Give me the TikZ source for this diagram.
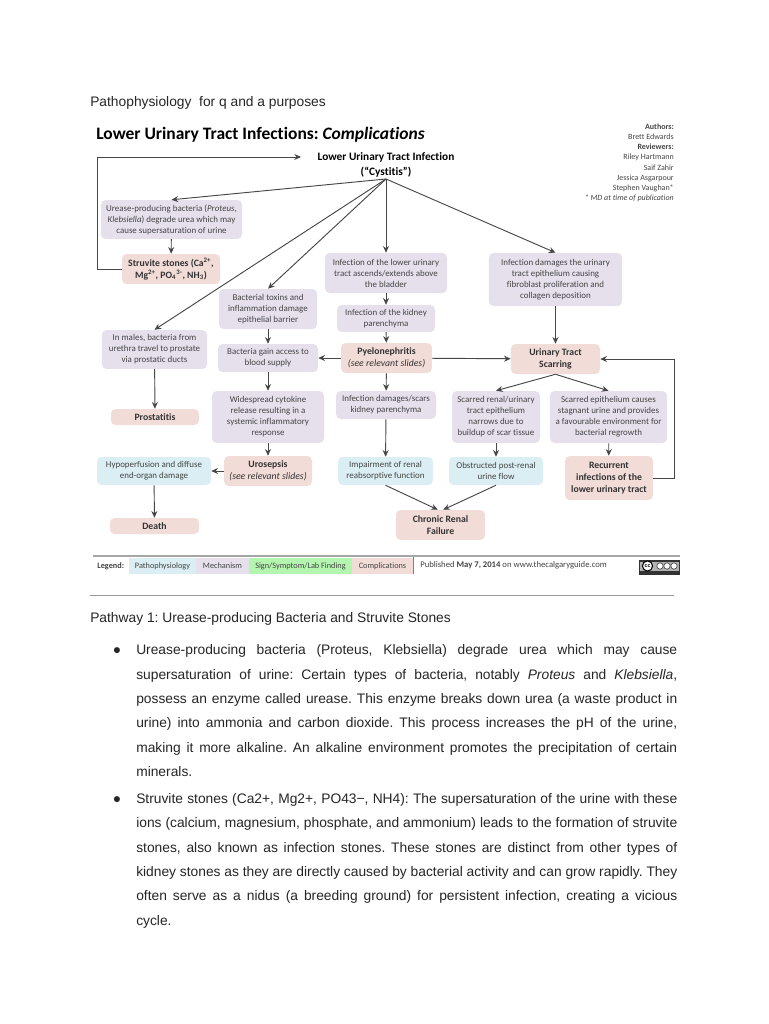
\documentclass[tikz,border=0pt]{standalone}
\usepackage{fontspec}
\setmainfont{Liberation Sans}
\newfontfamily\chartfont[Ligatures={TeX,NoCommon}]{Carlito}
\usetikzlibrary{arrows.meta}
\definecolor{mechfill}{HTML}{E6E0EC}
\definecolor{pathfill}{HTML}{DBEEF3}
\definecolor{signfill}{HTML}{B4F6B0}
\definecolor{compfill}{HTML}{F2DCD8}
\definecolor{inkgray}{HTML}{444444}
\frenchspacing
\tikzset{
  chartbox/.style={rounded corners=3.5pt,inner sep=0pt,align=center,text=inkgray,
    font=\chartfont\fontsize{6.7}{8.25}\selectfont},
  mech/.style={chartbox,fill=mechfill},
  patho/.style={chartbox,fill=pathfill},
  comp/.style={chartbox,fill=compfill,text=black!80,font=\chartfont\bfseries\fontsize{7.3}{9}\selectfont},
  conn/.style={line width=0.7pt,draw=black!72,-{Stealth[length=5pt,width=4.5pt]}},
  legendcell/.style={inner sep=0pt,minimum height=12pt,text=inkgray,font=\chartfont\fontsize{6.2}{7}\selectfont},
  bodytext/.style={anchor=north west,inner sep=0pt,align=justify,text=black!85,
    font=\fontsize{10.35}{18.3}\selectfont},
}
\begin{document}
\begin{tikzpicture}[x=0.75pt,y=-0.75pt]
\useasboundingbox (0,0) rectangle (768,1024);
\fill[white] (0,0) rectangle (768,1024);
\node[anchor=base west,inner sep=0pt,text=black!85,font=\fontsize{10.35}{12}\selectfont] (doctitle) at (90,106) {Pathophysiology\ \ for q and a purposes};
\node[anchor=base west,inner sep=0pt,font=\chartfont\bfseries\fontsize{13.1}{16}\selectfont] (charttitle) at (96,139.5) {Lower Urinary Tract Infections: \textit{Complications}};
\node[anchor=north east,inner sep=0pt,align=right,text=inkgray,font=\chartfont\fontsize{6}{7.65}\selectfont] (authors) at (674,123.5) {\textbf{Authors:}\\Brett Edwards\\\textbf{Reviewers:}\\Riley Hartmann\\Saif Zahir\\Jessica Asgarpour\\Stephen Vaughan*\\\textit{* MD at time of publication}};
% top of the chart
\node[inner sep=0pt,align=center,font=\chartfont\bfseries\fontsize{8.5}{11}\selectfont] (lower) at (386,165) {Lower Urinary Tract Infection\\(“Cystitis”)};
\coordinate (hub) at (386,179);
\node[mech,minimum width=105.8pt,minimum height=29.2pt] (urease) at (171.5,219.5) {Urease-producing bacteria (\textit{Proteus},\\\textit{Klebsiella}) degrade urea which may\\cause supersaturation of urine};
\node[comp,minimum width=73.5pt,minimum height=22.5pt] (struvite) at (171,269) {Struvite stones (Ca\textsuperscript{2+},\\Mg\textsuperscript{2+}, PO\textsubscript{4}\textsuperscript{3-}, NH\textsubscript{3})};
\node[mech,minimum width=73.5pt,minimum height=30pt] (toxins) at (268,309) {Bacterial toxins and\\inflammation damage\\epithelial barrier};
\node[mech,minimum width=78.8pt,minimum height=29.2pt] (males) at (154.5,349.5) {In males, bacteria from\\urethra travel to prostate\\via prostatic ducts};
\node[mech,minimum width=91.5pt,minimum height=30pt] (ascends) at (386,273) {Infection of the lower urinary\\tract ascends/extends above\\the bladder};
\node[mech,minimum width=73.5pt,minimum height=20.2pt] (kidney) at (386,318.5) {Infection of the kidney\\parenchyma};
\node[mech,minimum width=99.8pt,minimum height=39.8pt] (damage) at (555.5,279.5) {Infection damages the urinary\\tract epithelium causing\\fibroblast proliferation and\\collagen deposition};
\node[mech,minimum width=75pt,minimum height=21pt] (gain) at (268,358) {Bacteria gain access to\\blood supply};
\node[comp,minimum width=68.2pt,minimum height=22.5pt] (pyelo) at (386.5,358) {Pyelonephritis\\{\mdseries\itshape (see relevant slides)}};
\node[comp,minimum width=66.8pt,minimum height=22.5pt] (scarring) at (555.5,359) {Urinary Tract\\Scarring};
\node[mech,minimum width=84pt,minimum height=39pt] (cytokine) at (268,417) {Widespread cytokine\\release resulting in a\\systemic inflammatory\\response};
\node[mech,minimum width=75pt,minimum height=21pt] (scars) at (386,405) {Infection damages/scars\\kidney parenchyma};
\node[mech,minimum width=66pt,minimum height=39pt] (narrows) at (496,417) {Scarred renal/urinary\\tract epithelium\\narrows due to\\buildup of scar tissue};
\node[mech,minimum width=87.8pt,minimum height=39pt] (stagnant) at (608.5,417) {Scarred epithelium causes\\stagnant urine and provides\\a favourable environment for\\bacterial regrowth};
\node[comp,minimum width=66pt,minimum height=12pt] (prostatitis) at (155,417) {Prostatitis};
\node[comp,minimum width=66pt,minimum height=22.5pt] (urosepsis) at (268,471) {Urosepsis\\{\mdseries\itshape (see relevant slides)}};
\node[patho,minimum width=85.5pt,minimum height=21pt] (hypo) at (154,471) {Hypoperfusion and diffuse\\end-organ damage};
\node[patho,minimum width=71.2pt,minimum height=21pt] (impair) at (385.5,471) {Impairment of renal\\reabsorptive function};
\node[patho,minimum width=70.5pt,minimum height=21pt] (obstruct) at (496,471) {Obstructed post-renal\\urine flow};
\node[comp,minimum width=66pt,minimum height=33pt] (recurrent) at (609,478) {Recurrent\\infections of the\\lower urinary tract};
\node[comp,minimum width=66.8pt,minimum height=12pt] (death) at (154.5,526) {Death};
\node[comp,minimum width=66.8pt,minimum height=22.5pt] (chronic) at (440.5,525) {Chronic Renal\\Failure};
\coordinate (struviteturn) at (97,269);
\coordinate (lowerturn) at (97,157);
\coordinate (lowerin) at (301,157);
\coordinate (recurrentturn) at (674,478);
\coordinate (scarringin) at (674,359);
% connectors
\draw[conn] (struvite.west) -- (struviteturn) -- (lowerturn) -- (lowerin);
\draw[conn] (hub) -- (urease.north);
\draw[conn] (hub) -- (males.north);
\draw[conn] (hub) -- (toxins.north);
\draw[conn] (hub) -- (ascends.north);
\draw[conn] (hub) -- (damage.north);
\draw[conn] (urease) -- (struvite);
\draw[conn] (toxins) -- (gain);
\draw[conn] (gain) -- (cytokine);
\draw[conn] (cytokine) -- (urosepsis);
\draw[conn] (urosepsis) -- (hypo);
\draw[conn] (hypo) -- (death);
\draw[conn] (males) -- (prostatitis);
\draw[conn] (ascends) -- (kidney);
\draw[conn] (kidney) -- (pyelo);
\draw[conn] (pyelo) -- (gain);
\draw[conn] (pyelo) -- (scarring);
\draw[conn] (pyelo) -- (scars);
\draw[conn] (scars) -- (impair);
\draw[conn] (damage) -- (scarring);
\draw[conn] (scarring.south) -- (narrows.north);
\draw[conn] (scarring.south) -- (stagnant.north);
\draw[conn] (narrows) -- (obstruct);
\draw[conn] (stagnant) -- (recurrent);
\draw[conn] (impair.south) -- ([xshift=-2pt]chronic.north);
\draw[conn] (obstruct.south) -- ([xshift=2pt]chronic.north);
\draw[conn] (recurrent.east) -- (recurrentturn) -- (scarringin) -- (scarring.east);
% legend
\draw[black!35,line width=1.3pt] (93,556) -- (680,556);
\node[anchor=west,inner sep=0pt,font=\chartfont\bfseries\fontsize{6.2}{7}\selectfont,text=inkgray] (legendhead) at (97,566) {Legend:};
\node[legendcell,fill=pathfill,minimum width=50.2pt] (legpatho) at (162.5,566) {Pathophysiology};
\node[legendcell,fill=mechfill,minimum width=39.8pt] (legmech) at (222.5,566) {Mechanism};
\node[legendcell,fill=signfill,minimum width=77.2pt] (legsign) at (300.5,566) {Sign/Symptom/Lab Finding};
\node[legendcell,fill=compfill,minimum width=45.8pt] (legcomp) at (382.5,566) {Complications};
\draw[black!50] (413,557) -- (413,574);
\node[anchor=west,inner sep=0pt,text=inkgray,font=\chartfont\fontsize{6.5}{7}\selectfont] (published) at (420,565.5) {Published \textbf{May 7, 2014} on www.thecalgaryguide.com};
% licence badge
\fill[black!80] (638.5,560) rectangle (680,574.5);
\fill[black!30] (640,561.5) rectangle (678.5,570.5);
\fill[white] (647.5,566) circle (3.8pt);
\draw[black,line width=0.8pt] (647.5,566) circle (3.8pt);
\node[inner sep=0pt,font=\bfseries\fontsize{4}{4}\selectfont] (badgecc) at (647.5,566) {cc};
\foreach \cx in {660,667,674}
  \draw[black!70,fill=white,line width=0.5pt] (\cx,566) circle (2.4pt);
% rest of the page
\draw[black!40] (90,595) -- (674,595);
\node[anchor=base west,inner sep=0pt,text=black!85,font=\fontsize{10.35}{12}\selectfont] (pathway) at (90,622) {Pathway 1: Urease-producing Bacteria and Struvite Stones};
\node[anchor=base,inner sep=0pt,text=black!85,font=\fontsize{10.35}{12}\selectfont] (bulletone) at (117,654.5) {●};
\node[bodytext,text width=405.75pt] (paraone) at (136,644.5) {Urease-producing bacteria (Proteus, Klebsiella) degrade urea which may cause\linebreak supersaturation of urine: Certain types of bacteria, notably \textit{Proteus} and \textit{Klebsiella},\linebreak possess an enzyme called urease. This enzyme breaks down urea (a waste product in\linebreak urine) into ammonia and carbon dioxide. This process increases the pH of the urine,\linebreak making it more alkaline. An alkaline environment promotes the precipitation of certain\linebreak minerals.};
\node[anchor=base,inner sep=0pt,text=black!85,font=\fontsize{10.35}{12}\selectfont] (bullettwo) at (117,803) {●};
\node[bodytext,text width=405.75pt] (paratwo) at (136,793) {Struvite stones (Ca2+, Mg2+, PO43−, NH4): The supersaturation of the urine with these\linebreak ions (calcium, magnesium, phosphate, and ammonium) leads to the formation of struvite\linebreak stones, also known as infection stones. These stones are distinct from other types of\linebreak kidney stones as they are directly caused by bacterial activity and can grow rapidly. They\linebreak often serve as a nidus (a breeding ground) for persistent infection, creating a vicious\linebreak cycle.};
\end{tikzpicture}
\end{document}
